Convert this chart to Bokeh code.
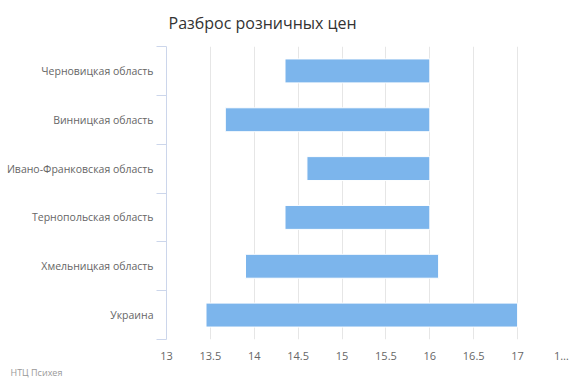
from bokeh.plotting import figure
from bokeh.models import Range1d, FixedTicker, Title, ColumnDataSource
from bokeh.embed import file_html
from bokeh.resources import INLINE

title_text = "Разброс розничных цен"
credits_text = "НТЦ Психея"
categories = ["Черновицкая область", "Винницкая область", "Ивано-Франковская область",
              "Тернопольская область", "Хмельницкая область", "Украина"]
low = [14.35, 13.67, 14.6, 14.35, 13.9, 13.45]
high = [16.0, 16.0, 16.0, 16.0, 16.1, 17.0]
x_ticks = [13, 13.5, 14, 14.5, 15, 15.5, 16, 16.5, 17, 17.5]
x_tick_labels = ["13", "13.5", "14", "14.5", "15", "15.5", "16", "16.5", "17", "1…"]

n = len(categories)
ypos = [n - 0.5 - i for i in range(n)]

FONT = "Open Sans"

p = figure(width=570, height=380, output_backend="svg", toolbar_location=None,
           x_range=Range1d(13, 17.5), y_range=Range1d(0, n),
           min_border_left=166, min_border_right=9, min_border_top=46, min_border_bottom=36)
p.outline_line_color = None
p.background_fill_color = "white"
p.border_fill_color = "white"

src = ColumnDataSource(dict(y=ypos, left=low, right=high, cat=categories))
p.hbar(y="y", left="left", right="right", height=0.49, source=src,
       fill_color="#7cb5ec", line_color="white", line_width=1)

# x axis
xa = p.xaxis[0]
xa.ticker = FixedTicker(ticks=x_ticks)
xa.major_label_overrides = {t: l for t, l in zip(x_ticks, x_tick_labels)}
xa.axis_line_color = None
xa.major_tick_line_color = None
xa.minor_tick_line_color = None
xa.major_tick_out = 0
xa.minor_tick_out = 0
xa.major_label_text_font = FONT
xa.major_label_text_font_size = "11px"
xa.major_label_text_color = "#666666"
xa.major_label_standoff = 8

# y axis
ya = p.yaxis[0]
ya.ticker = FixedTicker(ticks=ypos, minor_ticks=list(range(n + 1)))
ya.major_label_overrides = {y: c for y, c in zip(ypos, categories)}
ya.axis_line_color = "#ccd6eb"
ya.major_tick_line_color = None
ya.major_tick_out = 0
ya.major_tick_in = 0
ya.minor_tick_line_color = "#ccd6eb"
ya.minor_tick_out = 10
ya.minor_tick_in = 0
ya.major_label_text_font = FONT
ya.major_label_text_font_size = "10.5px"
ya.major_label_text_color = "#666666"
ya.major_label_standoff = 3

p.xgrid.ticker = FixedTicker(ticks=x_ticks)
p.xgrid.grid_line_color = "#e6e6e6"
p.ygrid.grid_line_color = None

p.title.text = title_text
p.title.align = "left"
p.title.offset = 2
p.title.standoff = 22
p.title.vertical_align = "top"
p.title.text_font = FONT
p.title.text_font_size = "16px"
p.title.text_font_style = "normal"
p.title.text_color = "#333333"

p.add_layout(Title(text=credits_text, align="left", offset=-156, standoff=0,
                   text_line_height=0.6, vertical_align="top",
                   text_font=FONT, text_font_size="9px", text_font_style="normal",
                   text_color="#999999"), "below")

open("out.html", "w").write(file_html(p, INLINE))
